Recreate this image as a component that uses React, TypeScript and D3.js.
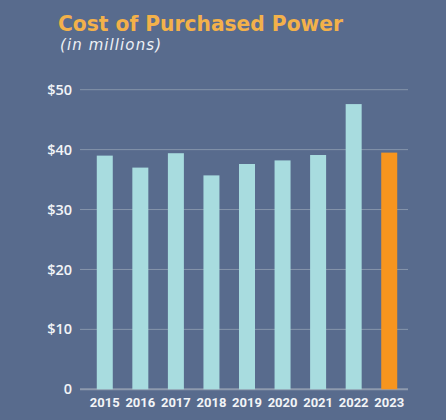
import React from "react";
import * as d3 from "d3";

const years = ["2015", "2016", "2017", "2018", "2019", "2020", "2021", "2022", "2023"];
const costs = [39.0, 37.0, 39.4, 35.7, 37.6, 38.2, 39.1, 47.6, 39.5];
const yTicks = [0, 10, 20, 30, 40, 50];
const yTickLabels = ["0", "$10", "$20", "$30", "$40", "$50"];
const highlightYear = "2023";

const W = 446;
const H = 420;

export default function App() {
  const x = d3
    .scaleBand<string>()
    .domain(years)
    .range([87, 407])
    .paddingInner(0.55)
    .paddingOuter(0.275);
  const y = d3.scaleLinear().domain([0, 50]).range([389.3, 89.7]);

  return (
    <div style={{ position: "fixed", left: 0, top: 0, width: W, height: H }}>
      <svg width={W} height={H} style={{ display: "block" }}>
        <rect x={0} y={0} width={W} height={H} fill="#586B8D" />
        <text
          x={58}
          y={31}
          fill="#F3B14A"
          fontFamily="'DejaVu Sans', sans-serif"
          fontWeight={700}
          fontSize={21.5}
          textLength={285}
          lengthAdjust="spacingAndGlyphs"
        >
          Cost of Purchased Power
        </text>
        <text
          x={60}
          y={50}
          fill="#EEF1F6"
          fontFamily="'DejaVu Sans', sans-serif"
          fontStyle="italic"
          fontWeight={400}
          fontSize={15}
          textLength={101}
          lengthAdjust="spacing"
        >
          (in millions)
        </text>
        {yTicks.map((t, i) => (
          <g key={t}>
            <line
              x1={80}
              x2={408}
              y1={y(t)}
              y2={y(t)}
              stroke={t === 0 ? "#8E9AAE" : "#8594AB"}
              strokeWidth={t === 0 ? 2 : 1}
            />
            <text
              x={72}
              y={y(t)}
              dy="0.35em"
              textAnchor="end"
              fill="#F2F4F7"
              fontFamily="'Open Sans', 'Noto Sans', sans-serif"
              fontWeight={600}
              fontSize={14.5}
            >
              {yTickLabels[i]}
            </text>
          </g>
        ))}
        {years.map((yr, i) => (
          <rect
            key={yr}
            x={x(yr)}
            y={y(costs[i])}
            width={x.bandwidth()}
            height={y(0) - y(costs[i])}
            fill={yr === highlightYear ? "#F7951E" : "#A8DCDF"}
          />
        ))}
        {years.map((yr) => (
          <text
            key={yr}
            x={(x(yr) as number) + x.bandwidth() / 2}
            y={407}
            textAnchor="middle"
            fill="#F2F4F7"
            fontFamily="'Liberation Sans Narrow', 'Roboto', sans-serif"
            fontWeight={700}
            fontSize={13}
          >
            {yr}
          </text>
        ))}
      </svg>
    </div>
  );
}
